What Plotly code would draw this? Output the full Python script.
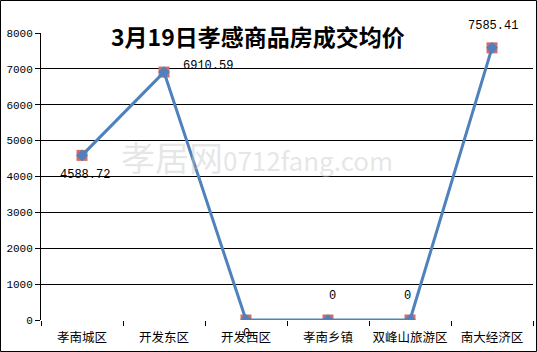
import plotly.graph_objects as go

categories = ["孝南城区", "开发东区", "开发西区", "孝南乡镇", "双峰山旅游区", "南大经济区"]
prices = [4588.72, 6910.59, 0, 0, 0, 7585.41]
label_texts = ["4588.72", "6910.59", "0", "0", "0", "7585.41"]
y_ticks = [0, 1000, 2000, 3000, 4000, 5000, 6000, 7000, 8000]

W, H = 537, 352
ml, mr, mt, mb = 41, 4, 33, 32
pw, ph = W - ml - mr, H - mt - mb

fig = go.Figure()
fig.add_trace(go.Scatter(
    x=list(range(len(categories))), y=prices, mode="markers",
    marker=dict(symbol="square", size=11, color="#d46a6a", line=dict(width=0)),
    hoverinfo="skip", showlegend=False))
fig.add_trace(go.Scatter(
    x=list(range(len(categories))), y=prices, mode="lines+markers",
    line=dict(color="#4f81bd", width=3),
    marker=dict(symbol="diamond", size=9, color="#4f81bd"),
    showlegend=False))

shifts = [(3, -20), (44, 6), (0, -14), (4, 24), (-3, 24), (1, 22)]
for i, (t, (dx, dy)) in enumerate(zip(label_texts, shifts)):
    fig.add_annotation(x=i, y=prices[i], text=t, showarrow=False,
                       xshift=dx, yshift=dy,
                       font=dict(family="Liberation Mono", size=12, color="black"))

fig.add_annotation(x=(258 - ml) / pw, y=1, xref="paper", yref="paper", yshift=16,
                   text="<b>3月19日孝感商品房成交均价</b>", showarrow=False,
                   font=dict(family="Noto Sans CJK SC", size=23, color="black"))

fig.add_annotation(x=0.44, y=0.57, xref="paper", yref="paper",
                   text="孝居网<span style='font-size:26px'>0712fang.com</span>",
                   showarrow=False,
                   font=dict(family="Noto Sans CJK SC", size=34, color="rgba(200,200,200,0.45)"))

fig.add_shape(type="rect", xref="paper", yref="paper",
              x0=(0.5 - ml) / pw, x1=(W - 0.5 - ml) / pw,
              y0=-(H - 0.5 - mt - ph) / ph, y1=1 + (mt - 0.5) / ph,
              line=dict(color="black", width=1))

fig.update_layout(
    width=W, height=H,
    margin=dict(l=ml, r=mr, t=mt, b=mb),
    paper_bgcolor="white", plot_bgcolor="white",
    xaxis=dict(
        tickmode="array", tickvals=list(range(len(categories))), ticktext=categories,
        range=[-0.5, len(categories) - 0.5],
        showgrid=False, zeroline=False, showline=False,
        ticks="", ticklabelstandoff=8,
        tickfont=dict(family="Noto Sans CJK SC", size=12.5, color="black"),
        fixedrange=True),
    yaxis=dict(
        range=[0, 8000], tickvals=y_ticks, ticks="outside", ticklen=5,
        tickcolor="black", showgrid=True, gridcolor="black", gridwidth=1,
        showline=True, linecolor="black", linewidth=1, zeroline=False,
        tickfont=dict(family="Liberation Mono", size=11, color="black")),
)
fig.update_layout(xaxis2=dict(overlaying="x", range=[-0.5, len(categories) - 0.5],
                              tickvals=[i - 0.5 for i in range(len(categories) + 1)],
                              ticks="outside", ticklen=5, tickcolor="black",
                              showticklabels=False, showgrid=False, zeroline=False,
                              showline=False, anchor="y", side="bottom"))
fig.add_trace(go.Scatter(x=[0], y=[0], xaxis="x2", mode="markers",
                         marker=dict(opacity=0), hoverinfo="skip", showlegend=False))

fig.write_html("out.html")
